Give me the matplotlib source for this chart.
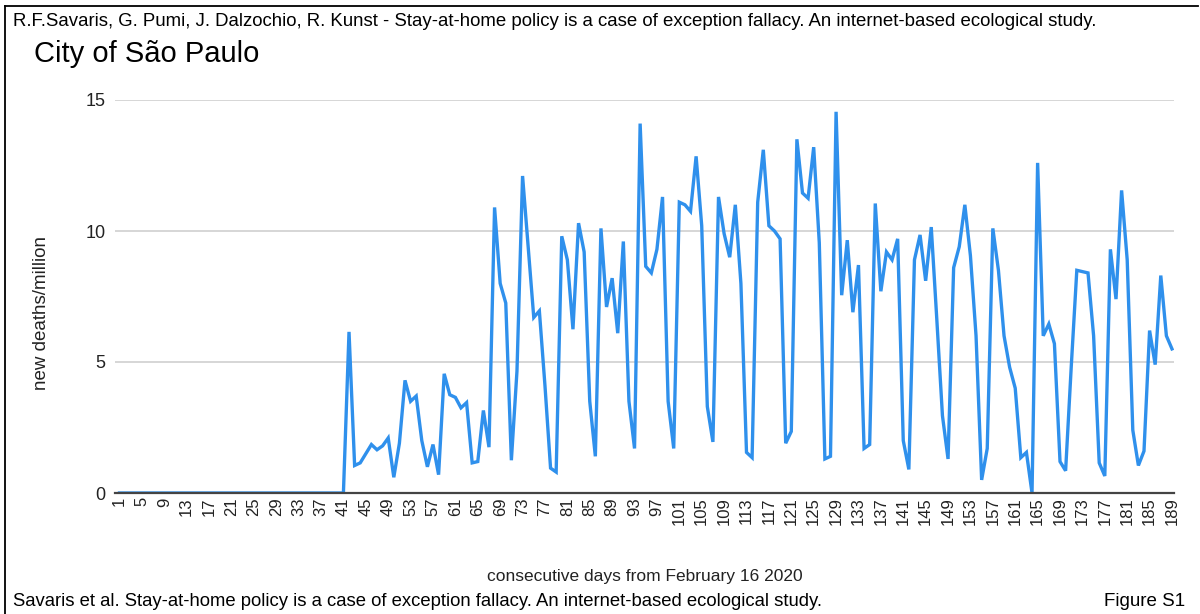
import numpy as np
import matplotlib
matplotlib.use("Agg")
from matplotlib import pyplot as plt
from matplotlib.lines import Line2D

plt.rcParams['font.family'] = ['Liberation Sans', 'DejaVu Sans']

# days 1..189 since February 16 2020
days = list(range(1, 190))

# new deaths per million (days 1-41 are zero)
zeros_before = [0.0] * 41
deaths_42_on = [
    6.15, 1.05, 1.15, 1.5, 1.85, 1.65, 1.8, 2.1, 0.6, 1.9,        # 42-51
    4.3, 3.5, 3.7, 2.0, 1.0, 1.85, 0.7, 4.55, 3.75, 3.65,         # 52-61
    3.25, 3.45, 1.15, 1.2, 3.15, 1.75, 10.9, 8.0, 7.25, 1.25,     # 62-71
    4.65, 12.1, 9.4, 6.7, 6.95, 4.1, 0.95, 0.8, 9.8, 8.9,         # 72-81
    6.25, 10.3, 9.2, 3.5, 1.4, 10.1, 7.1, 8.2, 6.1, 9.6,          # 82-91
    3.5, 1.7, 14.1, 8.65, 8.4, 9.3, 11.3, 3.5, 1.7, 11.1,         # 92-101
    11.0, 10.75, 12.85, 10.2, 3.3, 1.95, 11.3, 9.9, 9.0, 11.0,    # 102-111
    8.0, 1.55, 1.35, 11.1, 13.1, 10.2, 10.0, 9.7, 1.9, 2.35,      # 112-121
    13.5, 11.45, 11.25, 13.2, 9.55, 1.3, 1.4, 14.55, 7.55, 9.65,  # 122-131
    6.9, 8.7, 1.7, 1.85, 11.05, 7.7, 9.2, 8.9, 9.7, 2.0,          # 132-141
    0.9, 8.9, 9.85, 8.1, 10.15, 6.6, 2.95, 1.3, 8.6, 9.4,         # 142-151
    11.0, 9.05, 6.0, 0.5, 1.7, 10.1, 8.5, 6.0, 4.8, 4.0,          # 152-161
    1.35, 1.55, 0.0, 12.6, 6.0, 6.45, 5.7, 1.2, 0.85, 4.8,        # 162-171
    8.5, 8.45, 8.4, 6.0, 1.15, 0.65, 9.3, 7.4, 11.55, 8.9,        # 172-181
    2.4, 1.05, 1.6, 6.2, 4.9, 8.3, 6.0, 5.5,                      # 182-189
]
deaths = zeros_before + deaths_42_on

x_ticks = list(range(1, 190, 4))
y_ticks = [0, 5, 10, 15]

W, H = 1200, 614
fig = plt.figure(figsize=(W / 100, H / 100), dpi=100)
fig.patch.set_facecolor('white')

left_px, right_px, top_px, bottom_px = 115, 1174, 100, 493
ax = fig.add_axes([left_px / W, 1 - bottom_px / H,
                   (right_px - left_px) / W, (bottom_px - top_px) / H])

ax.plot(days, deaths, color='#2f90ec', linewidth=2.4, solid_joinstyle='miter', zorder=3)

ax.set_xlim(0.2, 189.36)
ax.set_ylim(0, 15)
ax.set_xticks(x_ticks)
ax.set_xticklabels([str(t) for t in x_ticks], rotation=90, fontsize=12, color='#222222')
ax.set_yticks(y_ticks)
ax.set_yticklabels([str(t) for t in y_ticks], fontsize=13, color='#222222')
ax.tick_params(axis='x', length=0, pad=3)
ax.tick_params(axis='y', length=0, pad=7)

for s in ['top', 'right', 'left']:
    ax.spines[s].set_visible(False)
ax.spines['bottom'].set_color('#444444')
ax.spines['bottom'].set_linewidth(1.6)
ax.spines['bottom'].set_zorder(4)

ax.yaxis.grid(True, color='#cccccc', linewidth=1.1)
ax.set_axisbelow(True)

fig.text(42 / W, 1 - 313 / H, 'new deaths/million', fontsize=13.5, color='#222222',
         rotation=90, ha='center', va='center')
fig.text(645 / W, 1 - 576 / H, 'consecutive days from February 16 2020',
         fontsize=12.5, color='#222222', ha='center', va='center')

# titles and captions
fig.text(13 / W, 1 - 22 / H,
         'R.F.Savaris, G. Pumi, J. Dalzochio, R. Kunst - Stay-at-home policy is a case of exception fallacy. '
         'An internet-based ecological study.',
         fontsize=13.4, color='black', ha='left', va='center')
fig.text(34 / W, 1 - 54 / H, 'City of São Paulo', fontsize=21, color='black', ha='left', va='center')
fig.text(13 / W, 1 - 602 / H,
         'Savaris et al. Stay-at-home policy is a case of exception fallacy. An internet-based ecological study.',
         fontsize=13.3, color='black', ha='left', va='center')
fig.text(1185 / W, 1 - 602 / H, 'Figure S1', fontsize=13.5, color='black', ha='right', va='center')

# frame around the figure (left and top edges)
fig.add_artist(Line2D([5 / W, 5 / W], [0, 1 - 6 / H], transform=fig.transFigure,
                      color='black', linewidth=1.3))
fig.add_artist(Line2D([5 / W, 1198 / W], [1 - 6 / H, 1 - 6 / H], transform=fig.transFigure,
                      color='black', linewidth=1.3))

fig.savefig('out.png', dpi=100, facecolor='white')
